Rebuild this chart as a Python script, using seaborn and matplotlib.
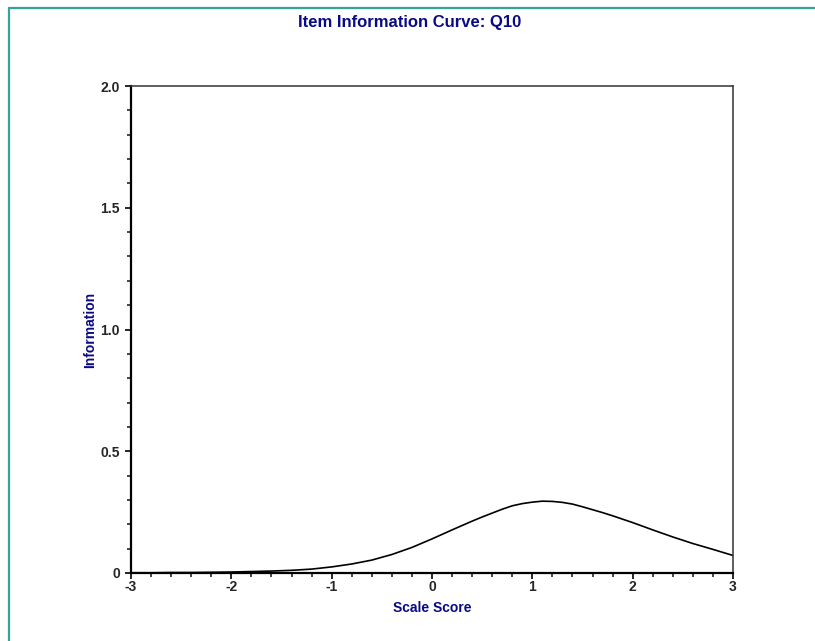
import numpy as np
import pandas as pd
import matplotlib
matplotlib.use("Agg")
import matplotlib.pyplot as plt
from matplotlib.ticker import MultipleLocator, FixedLocator
from matplotlib.lines import Line2D
import seaborn as sns

# Item information for Q10 across the scale score range
theta = [-3.0, -2.8, -2.6, -2.4, -2.2, -2.0, -1.8, -1.6, -1.4, -1.2, -1.0,
         -0.8, -0.6, -0.4, -0.2, 0.0, 0.2, 0.4, 0.5, 0.6, 0.7, 0.8, 0.9, 1.0,
         1.1, 1.2, 1.3, 1.4, 1.5, 1.6, 1.7, 1.8, 1.9, 2.0, 2.2, 2.4, 2.6,
         2.8, 3.0]
information = [0.001, 0.001, 0.002, 0.002, 0.003, 0.004, 0.006, 0.008, 0.011,
               0.016, 0.025, 0.037, 0.053, 0.076, 0.105, 0.140, 0.177, 0.213,
               0.230, 0.246, 0.262, 0.276, 0.285, 0.291, 0.295, 0.294, 0.290,
               0.283, 0.272, 0.260, 0.248, 0.235, 0.221, 0.207, 0.177, 0.148,
               0.121, 0.097, 0.072]
x_ticks = [-3, -2, -1, 0, 1, 2, 3]
x_tick_labels = ["-3", "-2", "-1", "0", "1", "2", "3"]
y_ticks = [0, 0.5, 1.0, 1.5, 2.0]
y_tick_labels = ["0", "0.5", "1.0", "1.5", "2.0"]

df = pd.DataFrame({"Scale Score": theta, "Information": information})

sns.set_style("white")
plt.rcParams["font.family"] = ["Liberation Sans", "DejaVu Sans"]

navy = "#0a0a84"
fig = plt.figure(figsize=(8.15, 6.41), dpi=100)
ax = fig.add_axes([131 / 815, 1 - 573 / 641, (733 - 131) / 815, (573 - 86) / 641])

sns.lineplot(data=df, x="Scale Score", y="Information", ax=ax,
             color="black", linewidth=1.2)

ax.set_xlim(-3, 3)
ax.set_ylim(0, 2)
ax.xaxis.set_major_locator(FixedLocator(x_ticks))
ax.yaxis.set_major_locator(FixedLocator(y_ticks))
ax.xaxis.set_minor_locator(MultipleLocator(0.2))
ax.yaxis.set_minor_locator(MultipleLocator(0.1))
ax.set_xticklabels(x_tick_labels, fontsize=10, fontweight="bold")
ax.set_yticklabels(y_tick_labels, fontsize=10, fontweight="bold")
ax.tick_params(which="major", direction="out", length=4, width=1.4,
               bottom=True, left=True, pad=4)
ax.tick_params(axis="x", which="major", pad=1)
ax.tick_params(which="minor", direction="out", length=3, width=1.2,
               bottom=True, left=True)

for side in ("left", "bottom"):
    ax.spines[side].set_color("black")
    ax.spines[side].set_linewidth(1.6)
for side in ("top", "right"):
    ax.spines[side].set_color("#333333")
    ax.spines[side].set_linewidth(1.1)

ax.set_xlabel("Scale Score", fontsize=10, fontweight="bold", color=navy,
              labelpad=5)
ax.set_ylabel("Information", fontsize=10, fontweight="bold", color=navy,
              labelpad=2)

fig.text(410 / 815, 1 - 23 / 641, "Item Information Curve: Q10",
         ha="center", va="center", fontsize=12, fontweight="bold", color=navy)

# Teal frame along the left and top edges
teal = "#35a39a"
fig.add_artist(Line2D([9 / 815, 9 / 815], [0, 1 - 8 / 641],
                      transform=fig.transFigure, color=teal, linewidth=1.6))
fig.add_artist(Line2D([9 / 815, 1], [1 - 8 / 641, 1 - 8 / 641],
                      transform=fig.transFigure, color=teal, linewidth=1.6))

fig.savefig("out.png", dpi=100)
